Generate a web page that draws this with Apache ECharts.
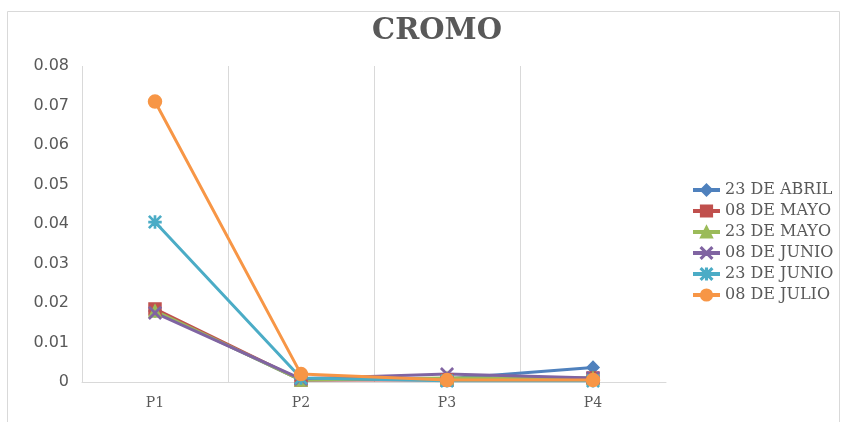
<!DOCTYPE html>
<html>
<head>
<meta charset="utf-8">
<title>CROMO</title>
<script src="https://cdn.jsdelivr.net/npm/echarts@6/dist/echarts.min.js"></script>
<style>
  html, body { margin: 0; padding: 0; background: #fff; }
  #container { width: 845px; height: 422px; }
</style>
</head>
<body>
<div id="container"></div>
<script>
var categories = ['P1', 'P2', 'P3', 'P4'];
var seriesNames = ['23 DE ABRIL', '08 DE MAYO', '23 DE MAYO', '08 DE JUNIO', '23 DE JUNIO', '08 DE JULIO'];
var abril23 = [0.018, 0.0005, 0.0008, 0.0037];
var mayo08 = [0.0185, 0.0005, 0.0005, 0.001];
var mayo23 = [0.018, 0.0005, 0.001, 0.001];
var junio08 = [0.0175, 0.0008, 0.002, 0.001];
var junio23 = [0.0405, 0.001, 0.0003, 0.0003];
var julio08 = [0.071, 0.002, 0.0005, 0.0005];
var yTicks = [0, 0.01, 0.02, 0.03, 0.04, 0.05, 0.06, 0.07, 0.08];

var colors = ['#4F81BD', '#C0504D', '#9BBB59', '#8064A2', '#4BACC6', '#F79646'];
var crossPath = 'path://M0,0.7 L0.7,0 L10,9.3 L9.3,10 Z M9.3,0 L10,0.7 L0.7,10 L0,9.3 Z';
var starPath = 'path://M4.5,0 L5.5,0 L5.5,4.5 L10,4.5 L10,5.5 L5.5,5.5 L5.5,10 L4.5,10 L4.5,5.5 L0,5.5 L0,4.5 L4.5,4.5 Z M0,0.7 L0.7,0 L10,9.3 L9.3,10 Z M9.3,0 L10,0.7 L0.7,10 L0,9.3 Z';
var symbols = ['diamond', 'rect', 'triangle', crossPath, starPath, 'circle'];
var sizes = [12, 12, 12, 12, 12, 13];
var values = [abril23, mayo08, mayo23, junio08, junio23, julio08];

var serif = '"DejaVu Serif", "Liberation Serif", serif';
var sans = '"DejaVu Sans", Verdana, sans-serif';

var series = [];
for (var i = 0; i < seriesNames.length; i++) {
    series.push({
        name: seriesNames[i],
        type: 'line',
        data: values[i],
        symbol: symbols[i],
        symbolSize: sizes[i],
        showAllSymbol: true,
        lineStyle: { color: colors[i], width: 3 },
        itemStyle: { color: colors[i], borderColor: colors[i], borderWidth: 1.5 },
        emphasis: { disabled: true }
    });
}

var myChart = echarts.init(document.getElementById('container'));
var option = {
    backgroundColor: '#ffffff',
    animation: false,
    color: colors,
    textStyle: { fontFamily: serif },
    title: {
        text: 'CROMO',
        left: 432,
        top: 12,
        textAlign: 'center',
        textStyle: { color: '#595959', fontSize: 29, fontWeight: 'bold', fontFamily: serif }
    },
    graphic: [{
        type: 'rect',
        shape: { x: 7.5, y: 11.5, width: 832, height: 420 },
        style: { fill: 'none', stroke: '#d9d9d9', lineWidth: 1 },
        silent: true
    }],
    legend: {
        orient: 'vertical',
        left: 686,
        top: 177,
        itemWidth: 27,
        itemHeight: 14,
        itemGap: 5,
        lineStyle: { width: 4 },
        textStyle: { color: '#595959', fontSize: 16, lineHeight: 14, fontFamily: serif },
        data: seriesNames
    },
    grid: { left: 82, right: 179, top: 66, bottom: 40 },
    xAxis: {
        type: 'category',
        data: categories,
        boundaryGap: true,
        axisLine: { lineStyle: { color: '#d9d9d9', width: 1 } },
        axisTick: { show: false },
        splitLine: { show: true, showMaxLine: false, lineStyle: { color: '#d9d9d9', width: 1 } },
        axisLabel: { color: '#595959', fontSize: 14, margin: 14, fontFamily: serif }
    },
    yAxis: {
        type: 'value',
        min: 0,
        max: 0.08,
        interval: 0.01,
        axisLine: { show: false },
        axisTick: { show: false },
        splitLine: { show: false },
        axisLabel: {
            color: '#595959', fontSize: 16, margin: 13, fontFamily: sans,
            formatter: function (v) {
                var best = yTicks.reduce(function (a, b) { return Math.abs(b - v) < Math.abs(a - v) ? b : a; });
                return String(best);
            }
        }
    },
    series: series
};
myChart.setOption(option);
</script>
</body>
</html>
